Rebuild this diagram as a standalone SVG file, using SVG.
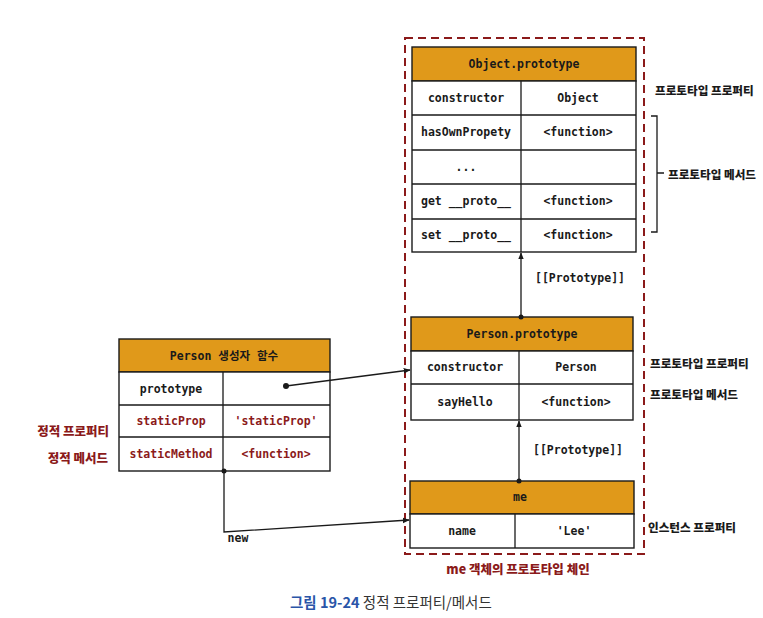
<svg xmlns="http://www.w3.org/2000/svg" width="763" height="618" viewBox="0 0 763 618">
<defs>
<marker id="arr" viewBox="0 0 10 10" refX="9" refY="5" markerWidth="7" markerHeight="7" orient="auto" markerUnits="userSpaceOnUse">
<path d="M0,1 L10,5 L0,9 z" fill="#1a1a1a"/>
</marker>
<style>
.box{fill:#fff;stroke:#1a1a1a;stroke-width:1.4}
.hdr{fill:#E0991A;stroke:#1a1a1a;stroke-width:1.4}
.ln{stroke:#1a1a1a;stroke-width:1.3;fill:none}
.t{font-family:"DejaVu Sans Mono","Noto Sans CJK KR",monospace;font-weight:bold;font-size:11.5px;fill:#1a1a1a;text-anchor:middle;dominant-baseline:central}
.th{font-family:"DejaVu Sans Mono","Noto Sans CJK KR",monospace;font-weight:bold;font-size:11.5px;fill:#1a1a1a;text-anchor:middle;dominant-baseline:central}
.red{fill:#8B1A1A}
.k{font-family:"Noto Sans CJK KR","Noto Sans",sans-serif;font-weight:900;font-size:11.6px;fill:#1a1a1a;dominant-baseline:central}
.kr{font-family:"Noto Sans CJK KR","Noto Sans",sans-serif;font-weight:900;font-size:12.5px;fill:#8B1A1A;dominant-baseline:central}
.dot{fill:#1a1a1a}
</style>
</defs>
<rect width="763" height="618" fill="#fff"/>

<g id="chain-border">
<rect x="405" y="38" width="239" height="516" fill="none" stroke="#8B1A1A" stroke-width="2" stroke-dasharray="8 5"/>
<text class="kr" x="518" y="568" text-anchor="middle" font-size="13.2">me 객체의 프로토타입 체인</text>
</g>

<g id="object-prototype">
<rect class="hdr" x="412" y="47" width="224" height="34"/>
<rect class="box" x="412" y="81" width="224" height="171"/>
<path class="ln" d="M412 115H636M412 150H636M412 184H636M412 219H636M521 81V252"/>
<text class="th" x="524" y="64">Object.prototype</text>
<text class="t" x="466" y="98">constructor</text>
<text class="t" x="578" y="98">Object</text>
<text class="t" x="466" y="132">hasOwnPropety</text>
<text class="t" x="578" y="132">&lt;function&gt;</text>
<text class="t" x="466" y="167">...</text>
<text class="t" x="466" y="201">get __proto__</text>
<text class="t" x="578" y="201">&lt;function&gt;</text>
<text class="t" x="466" y="235">set __proto__</text>
<text class="t" x="578" y="235">&lt;function&gt;</text>
</g>

<g id="person-prototype">
<rect class="hdr" x="411" y="317" width="222" height="34"/>
<rect class="box" x="411" y="351" width="222" height="69"/>
<path class="ln" d="M411 384H633M519 351V420"/>
<text class="th" x="522" y="334">Person.prototype</text>
<text class="t" x="465" y="367">constructor</text>
<text class="t" x="576" y="367">Person</text>
<text class="t" x="465" y="402">sayHello</text>
<text class="t" x="576" y="402">&lt;function&gt;</text>
</g>

<g id="me">
<rect class="hdr" x="410" y="481" width="224" height="33"/>
<rect class="box" x="410" y="514" width="224" height="34"/>
<path class="ln" d="M515 514V548"/>
<text class="th" x="520" y="497">me</text>
<text class="t" x="462" y="531">name</text>
<text class="t" x="574" y="531">'Lee'</text>
</g>

<g id="person-constructor">
<rect class="hdr" x="119" y="339" width="211" height="33"/>
<rect class="box" x="119" y="372" width="211" height="99"/>
<path class="ln" d="M119 405H330M119 437H330M223 372V471"/>
<text class="th" x="224" y="356">Person 생성자 함수</text>
<text class="t" x="171" y="389">prototype</text>
<text class="t red" x="171" y="421">staticProp</text>
<text class="t red" x="276" y="421">'staticProp'</text>
<text class="t red" x="171" y="454">staticMethod</text>
<text class="t red" x="276" y="454">&lt;function&gt;</text>
</g>

<g id="connectors">
<line class="ln" x1="521" y1="317" x2="521" y2="253" marker-end="url(#arr)"/>
<circle class="dot" cx="521" cy="317" r="2.5"/>
<text class="t" x="580" y="278">[[Prototype]]</text>
<line class="ln" x1="519" y1="481" x2="519" y2="421" marker-end="url(#arr)"/>
<circle class="dot" cx="519" cy="481" r="2.5"/>
<text class="t" x="578" y="450">[[Prototype]]</text>
<line class="ln" x1="286" y1="386" x2="410" y2="370" marker-end="url(#arr)"/>
<circle class="dot" cx="286" cy="386" r="3"/>
<path class="ln" d="M224 471V532L409 520" marker-end="url(#arr)"/>
<circle class="dot" cx="224" cy="471" r="2.5"/>
<text class="t" x="238" y="538" font-size="10">new</text>
<path class="ln" d="M651 116H657V232H651M657 173H664"/>
</g>

<g id="labels">
<text class="k" x="655" y="90">프로토타입 프로퍼티</text>
<text class="k" x="668" y="174">프로토타입 메서드</text>
<text class="k" x="650" y="363">프로토타입 프로퍼티</text>
<text class="k" x="650" y="394">프로토타입 메서드</text>
<text class="k" x="648" y="527">인스턴스 프로퍼티</text>
<text class="kr" x="109" y="430" text-anchor="end">정적 프로퍼티</text>
<text class="kr" x="108" y="457" text-anchor="end">정적 메서드</text>
</g>

<g id="caption">
<text x="290" y="601" font-family="'Noto Sans CJK KR','Noto Sans',sans-serif" font-size="14.5" dominant-baseline="central"><tspan fill="#2A55A8" font-weight="bold">그림 19-24</tspan><tspan fill="#333"> 정적 프로퍼티/메서드</tspan></text>
</g>
</svg>
